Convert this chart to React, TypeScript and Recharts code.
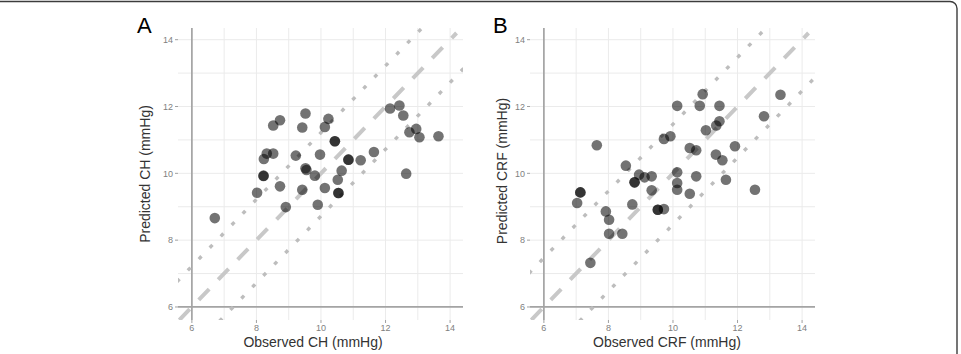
import React from 'react';
import { ComposedChart, XAxis, YAxis, Scatter, Line, ReferenceLine } from 'recharts';

// Panel A: corneal hysteresis (CH), observed vs predicted
const obsCH = [6.71, 8.02, 8.22, 8.22, 8.23, 8.32, 8.52, 8.52, 8.73, 8.73, 8.91, 9.22, 9.42, 9.42, 9.52, 9.52, 9.55, 9.81, 9.9, 9.97, 10.12, 10.23, 10.43, 10.43, 10.85, 10.85, 11.23, 11.64, 10.64, 10.52, 10.12, 10.54, 10.54, 12.14, 12.43, 12.55, 12.74, 12.95, 13.05, 13.64, 12.64];
const predCH = [8.66, 9.42, 9.92, 9.93, 10.43, 10.59, 10.59, 11.43, 11.59, 9.61, 8.99, 10.53, 9.51, 11.37, 11.79, 10.15, 10.1, 9.93, 9.06, 10.56, 11.39, 11.63, 10.96, 10.96, 10.41, 10.41, 10.39, 10.64, 10.08, 9.81, 9.56, 9.41, 9.41, 11.94, 12.03, 11.73, 11.23, 11.33, 11.08, 11.11, 9.99];

// Panel B: corneal resistance factor (CRF), observed vs predicted
const obsCRF = [7.44, 7.03, 7.13, 7.13, 7.64, 7.92, 8.02, 8.02, 8.43, 8.54, 8.74, 8.81, 8.81, 8.95, 9.12, 9.34, 9.34, 9.53, 9.53, 9.72, 9.72, 9.92, 10.13, 10.13, 10.13, 10.13, 10.52, 10.52, 10.72, 10.72, 10.83, 10.92, 11.02, 11.33, 11.34, 11.44, 11.44, 11.53, 11.64, 11.92, 12.54, 12.82, 13.33];
const predCRF = [7.32, 9.11, 9.43, 9.43, 10.84, 8.86, 8.61, 8.19, 8.19, 10.23, 9.07, 9.73, 9.73, 9.96, 9.88, 9.91, 9.49, 8.91, 8.91, 8.93, 11.03, 11.11, 12.02, 10.03, 9.71, 9.51, 9.39, 10.76, 10.69, 9.91, 12.02, 12.37, 11.29, 10.56, 11.43, 11.56, 12.02, 10.39, 9.81, 10.81, 9.51, 11.71, 12.35];

// Offsets of the upper / lower agreement lines (y = x + offset)
const limitsCH = [1.22, -1.28];
const limitsCRF = [1.47, -1.53];

const tickValues = [6, 8, 10, 12, 14];
const gridValues = [6, 7, 8, 9, 10, 11, 12, 13, 14];
const xDomain: [number, number] = [5.57, 14.4];
const yDomain: [number, number] = [5.61, 14.35];
const identityEnd = 14.2;

const FONT = '"Liberation Sans", Arial, sans-serif';

function toPoints(xs: number[], ys: number[]) {
  return xs.map((x, i) => ({ x, y: ys[i] }));
}

// Segment of y = x + offset clipped to the plotting window
function offsetLine(offset: number, end: number) {
  const x0 = Math.max(xDomain[0], yDomain[0] - offset);
  const x1 = Math.min(end, yDomain[1] - offset);
  return [
    { x: x0, y: x0 + offset },
    { x: x1, y: x1 + offset },
  ];
}

const dotShape = (p: any) => (
  <circle cx={p.cx} cy={p.cy} r={5.3} fill="#000" fillOpacity={0.55} />
);

type PanelProps = {
  left: number;
  yAxisWidth: number;
  rightMargin: number;
  points: { x: number; y: number }[];
  limits: number[];
};

function Panel({ left, yAxisWidth, rightMargin, points, limits }: PanelProps) {
  const identity = offsetLine(0, identityEnd);
  const upper = offsetLine(limits[0], xDomain[1]);
  const lower = offsetLine(limits[1], xDomain[1]);
  const tickStyle = { fontSize: 9, fill: '#808080', fontFamily: FONT };
  return (
    <div style={{ position: 'absolute', left, top: 0 }}>
      <ComposedChart
        width={380}
        height={354}
        margin={{ top: 28, right: rightMargin, bottom: 0, left: 0 }}
      >
        <XAxis
          type="number"
          dataKey="x"
          domain={xDomain}
          allowDataOverflow
          ticks={tickValues}
          interval={0}
          height={34}
          axisLine={false}
          tickSize={3}
          tickMargin={2}
          tickLine={{ stroke: '#a0a0a0' }}
          tick={tickStyle}
        />
        <YAxis
          type="number"
          dataKey="y"
          domain={yDomain}
          allowDataOverflow
          ticks={tickValues}
          interval={0}
          width={yAxisWidth}
          axisLine={false}
          tickSize={3}
          tickMargin={2}
          tickLine={{ stroke: '#a0a0a0' }}
          tick={tickStyle}
        />
        {gridValues.map((v) => (
          <ReferenceLine key={'gx' + v} x={v} stroke="#ebebeb" strokeWidth={1} />
        ))}
        {gridValues.map((v) => (
          <ReferenceLine key={'gy' + v} y={v} stroke="#ebebeb" strokeWidth={1} />
        ))}
        <ReferenceLine x={6} stroke="#a4a4a4" strokeWidth={1.7} />
        <ReferenceLine y={6} stroke="#a4a4a4" strokeWidth={1.7} />
        <Line
          data={upper}
          dataKey="y"
          type="linear"
          stroke="#bdbdbd"
          strokeWidth={3.4}
          strokeDasharray="0.5 15.3"
          strokeLinecap="square"
          dot={false}
          activeDot={false}
          isAnimationActive={false}
        />
        <Line
          data={lower}
          dataKey="y"
          type="linear"
          stroke="#bdbdbd"
          strokeWidth={3.4}
          strokeDasharray="0.5 15.3"
          strokeLinecap="square"
          dot={false}
          activeDot={false}
          isAnimationActive={false}
        />
        <Line
          data={identity}
          dataKey="y"
          type="linear"
          stroke="#c8c8c8"
          strokeWidth={4}
          strokeDasharray="15 13"
          dot={false}
          activeDot={false}
          isAnimationActive={false}
        />
        <Scatter
          data={points}
          dataKey="y"
          shape={dotShape}
          isAnimationActive={false}
        />
      </ComposedChart>
    </div>
  );
}

export default function App() {
  return (
    <div
      style={{
        position: 'absolute',
        left: 0,
        top: 0,
        width: 961,
        height: 354,
        background: '#fff',
        overflow: 'hidden',
        fontFamily: FONT,
      }}
    >
      <Panel
        left={100}
        yAxisWidth={78}
        rightMargin={17}
        points={toPoints(obsCH, predCH)}
        limits={limitsCH}
      />
      <Panel
        left={450}
        yAxisWidth={80}
        rightMargin={15}
        points={toPoints(obsCRF, predCRF)}
        limits={limitsCRF}
      />
      <svg
        width={961}
        height={354}
        style={{ position: 'absolute', left: 0, top: 0, pointerEvents: 'none' }}
      >
        <rect x={-20} y={1.5} width={977} height={400} rx={7} fill="none" stroke="#3c3c3c" strokeWidth={1.4} />
        <text x={137} y={33} fontSize={22} fontFamily={FONT} fill="#000">A</text>
        <text x={493} y={33} fontSize={22} fontFamily={FONT} fill="#000">B</text>
        <text x={313} y={347} fontSize={14} fontFamily={FONT} fill="#333" textAnchor="middle">
          Observed CH (mmHg)
        </text>
        <text x={667} y={347} fontSize={14} fontFamily={FONT} fill="#333" textAnchor="middle">
          Observed CRF (mmHg)
        </text>
        <text
          x={0}
          y={0}
          fontSize={14}
          fontFamily={FONT}
          fill="#333"
          textAnchor="middle"
          transform="translate(150 174) rotate(-90)"
        >
          Predicted CH (mmHg)
        </text>
        <text
          x={0}
          y={0}
          fontSize={14}
          fontFamily={FONT}
          fill="#333"
          textAnchor="middle"
          transform="translate(507 171) rotate(-90)"
        >
          Predicted CRF (mmHg)
        </text>
      </svg>
    </div>
  );
}
